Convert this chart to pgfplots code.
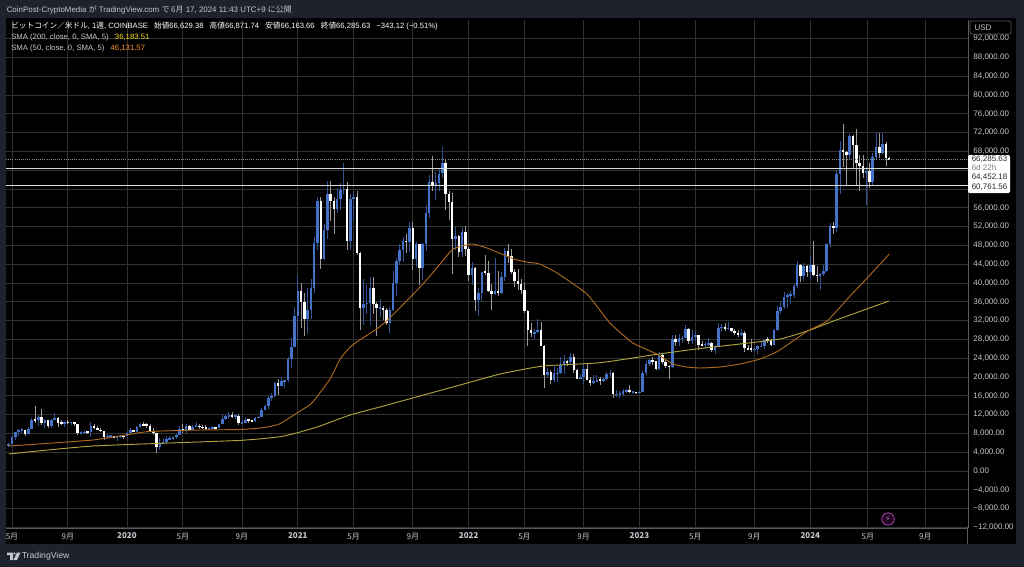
\documentclass[border=0pt]{standalone}
\usepackage{pgfplots}
\pgfplotsset{compat=1.18}
\usepackage{pgfplotstable}
\usepackage{fontspec}
\setmainfont{Liberation Sans}
\newfontfamily\cjk{Noto Sans CJK JP}
\newfontfamily\dvfont{DejaVu Sans}
\definecolor{bgdark}{HTML}{1E222D}
\definecolor{gridc}{HTML}{323232}
\definecolor{axc}{HTML}{5A5A5E}
\definecolor{txt}{HTML}{C4C7CF}
\definecolor{upc}{HTML}{4472C8}
\definecolor{upw}{HTML}{2F5596}
\definecolor{dnw}{HTML}{9A9A9A}
\definecolor{ma200}{HTML}{AFA43E}
\definecolor{ma50}{HTML}{AD6A1E}
\pgfplotstableread{
i o h l c
0 5280 5900 5150 5770
1 5770 7450 5700 7260
2 7260 8380 6600 8200
3 8200 8950 7500 8730
4 8730 9100 8000 8740
5 8740 8820 7450 7960
6 7960 9350 7700 8980
7 8980 11200 8950 10830
8 10830 13880 10300 10820
9 10820 12000 9650 11470
10 11470 13150 9850 10200
11 10200 11100 9070 10770
12 10770 10800 9100 9480
13 9480 11000 9100 10810
14 10810 12300 10800 11290
15 11290 11450 9450 10320
16 10320 10950 9700 10130
17 10130 10650 9330 10370
18 10370 10920 10000 10310
19 10310 10450 9850 10360
20 10360 10370 9600 9990
21 9990 10050 7700 8050
22 8050 8500 7800 8140
23 8140 8800 7800 8310
24 8310 8420 7870 8220
25 8220 10500 7300 9550
26 9550 9950 8950 9200
27 9200 9500 8650 8800
28 8800 9100 8400 8500
29 8500 8500 6550 7300
30 7300 7850 6850 7400
31 7400 7750 7150 7500
32 7500 7530 6970 7070
33 7070 7500 6430 7320
34 7320 7700 7050 7390
35 7390 7500 6850 7350
36 7350 8470 7350 8180
37 8180 9200 8100 8700
38 8700 8800 8250 8340
39 8340 9600 8300 9310
40 9310 10180 9150 9900
41 9900 10500 9550 9880
42 9880 10300 9250 9660
43 9660 9970 8400 8530
44 8530 9180 7640 8030
45 8030 8170 3850 5200
46 5200 7000 4450 5830
47 5830 7000 5650 6250
48 6250 7450 5860 6780
49 6780 7480 6500 6860
50 6860 7200 6500 7130
51 7130 7800 6800 7700
52 7700 9480 7630 8900
53 8900 10050 8150 8720
54 8720 9950 8100 9680
55 9680 9850 8630 8720
56 8720 9800 8630 9450
57 9450 10400 9280 9670
58 9670 10000 8900 9330
59 9330 9800 8900 9290
60 9290 9770 8820 9000
61 9000 9300 8900 9070
62 9070 9470 9050 9240
63 9240 9340 9000 9170
64 9170 10000 9130 9930
65 9930 12100 9900 11040
66 11040 11900 10950 11760
67 11760 12480 11130 11850
68 11850 12480 11380 11650
69 11650 11830 11100 11700
70 11700 12050 9800 10250
71 10250 10800 9900 10320
72 10320 11180 10250 10920
73 10920 10990 10130 10770
74 10770 10950 10370 10670
75 10670 11490 10520 11300
76 11300 11720 11200 11500
77 11500 13350 11400 13030
78 13030 14100 12900 13760
79 13760 15960 13200 15480
80 15480 16500 14850 15980
81 15980 18950 15800 18680
82 18680 19480 16200 18180
83 18180 19900 18100 19150
84 19150 19450 17600 19280
85 19280 24300 19000 23800
86 23800 28400 21900 26450
87 26450 34800 26400 33000
88 33000 41950 27700 38200
89 38200 40100 30400 36000
90 36000 37800 28800 32300
91 32300 38900 29200 34300
92 34300 40900 32300 38900
93 38900 49700 37900 48600
94 48600 58300 47000 57400
95 57400 58300 43000 45200
96 45200 52600 45000 51200
97 51200 61800 49300 59000
98 59000 61800 53200 57500
99 57500 58300 50500 55800
100 55800 60200 55000 57900
101 57900 61300 55500 59800
102 59800 65500 59000 60000
103 60000 61500 47000 49000
104 49000 59000 47000 57800
105 57800 59500 53000 58200
106 58200 59500 46000 46400
107 46400 46600 30000 34700
108 34700 40800 31000 35600
109 35600 39500 33500 35800
110 35800 41300 31000 39000
111 39000 41300 33300 35600
112 35600 36000 28800 34700
113 34700 36600 32700 34700
114 34700 35100 32100 34250
115 34250 34600 31000 31500
116 31500 34800 29300 34250
117 34250 42600 34100 39900
118 39900 45300 37300 44600
119 44600 48200 43800 47000
120 47000 49800 44400 48900
121 48900 50500 46300 48800
122 48800 52900 46500 51800
123 51800 52900 42800 45200
124 45200 48800 43300 48300
125 48300 48300 39600 43200
126 43200 48500 40700 48200
127 48200 56500 46900 54900
128 54900 62900 53900 61500
129 61500 67000 59500 60900
130 60900 63700 57700 61300
131 61300 64300 59500 63300
132 63300 69000 62300 65500
133 65500 66300 55600 59000
134 59000 59500 53300 57300
135 57300 59200 42000 49400
136 49400 51900 47100 50100
137 50100 50200 45500 46700
138 46700 51900 45600 50800
139 50800 52100 45700 47300
140 47300 47600 40500 41800
141 41800 44500 39600 43100
142 43100 43500 34000 36300
143 36300 38900 32900 37900
144 37900 42400 36200 42400
145 42400 45900 41600 42200
146 42200 44700 38000 38400
147 38400 39800 34300 37700
148 37700 45400 37500 38400
149 38400 42600 37200 37800
150 37800 42400 37600 41300
151 41300 47500 40500 46800
152 46800 48200 44200 45800
153 45800 47300 41900 42300
154 42300 42900 39200 40400
155 40400 42900 38600 39700
156 39700 40800 37700 38500
157 38500 40000 33700 34000
158 34000 34200 26500 30100
159 30100 31400 28600 29400
160 29400 30200 28000 29500
161 29500 32400 29300 29900
162 29900 31800 26500 26600
163 26600 26800 17600 20500
164 20500 22000 19700 21000
165 21000 21500 18600 19300
166 19300 22400 19000 20800
167 20800 22000 18900 20800
168 20800 24200 20700 22600
169 22600 24700 20700 23300
170 23300 23700 22400 23200
171 23200 25200 22700 24300
172 24300 25000 20800 21500
173 21500 21800 19500 19600
174 19600 20600 19500 20000
175 20000 22800 18500 21800
176 21800 22700 19300 19400
177 19400 19900 18100 18800
178 18800 20400 18500 19050
179 19050 20500 19000 19400
180 19400 19900 18200 19250
181 19250 19700 18900 19600
182 19600 21000 19300 20600
183 20600 21500 20100 20900
184 20900 21100 15600 16300
185 16300 17200 15800 16350
186 16350 17000 15500 16400
187 16400 17400 16000 17100
188 17100 17400 16700 17150
189 17150 18400 16500 16800
190 16800 17000 16400 16850
191 16850 16900 16300 16600
192 16600 17100 16500 16900
193 16900 21300 16900 20900
194 20900 23400 20400 22700
195 22700 23800 22300 23700
196 23700 24200 22500 23300
197 23300 23400 21400 21800
198 21800 25300 21400 24600
199 24600 25200 22700 23100
200 23100 23900 21900 22400
201 22400 22600 19500 22150
202 22150 28900 21900 28000
203 28000 28900 26600 27500
204 27500 29200 26500 28200
205 28200 28800 27200 28300
206 28300 31000 28200 30300
207 30300 30500 27100 27600
208 27600 30000 27100 28500
209 28500 29800 27700 28900
210 28900 29000 25800 26800
211 26800 27700 26500 26750
212 26750 27400 25900 27100
213 27100 28400 26500 27150
214 27150 27400 25400 25850
215 25850 26800 24800 26300
216 26300 31400 26300 30500
217 30500 31300 29500 30600
218 30600 31500 29700 30300
219 30300 31800 29900 30350
220 30350 30400 29500 29800
221 29800 30300 29000 29300
222 29300 30000 28600 29050
223 29050 30200 28700 29300
224 29300 29700 25300 26100
225 26100 26800 25800 26000
226 26000 28100 25300 25850
227 25850 26100 25400 25900
228 25900 26800 24900 26500
229 26500 27500 26400 26600
230 26600 28100 26000 27950
231 27950 28600 27200 27900
232 27900 28000 26500 26900
233 26900 30200 26800 29900
234 29900 35200 29800 34100
235 34100 35900 33400 35000
236 35000 38000 34500 37050
237 37050 37900 34700 37400
238 37400 38400 35600 37450
239 37450 39700 36800 39450
240 39450 44700 39000 43800
241 43800 44000 40200 41400
242 41400 44300 40500 43700
243 43700 43800 41300 42300
244 42300 45900 40800 43900
245 43900 49000 41500 41700
246 41700 43600 40300 41600
247 41600 42200 38500 42000
248 42000 43900 41500 42600
249 42600 48600 42300 48300
250 48300 52800 47700 52100
251 52100 53000 50500 51700
252 51700 64000 50900 63100
253 63100 70200 59000 68300
254 68300 73800 64600 67900
255 67900 68100 60800 67200
256 67200 71700 66400 71300
257 71300 71400 64500 69400
258 69400 72800 60700 65600
259 65600 67200 59600 64900
260 64900 67200 62400 63400
261 63400 64700 56500 63900
262 63900 65500 60200 61500
263 61500 67700 60800 66900
264 66900 71900 66300 69000
265 69000 71900 66700 67700
266 67700 72000 67500 69600
267 69600 70000 65000 66600
268 66629 66872 66164 66286
}\candles
\pgfplotstableread{
x y
0 3620
25.7 5320
70 6500
82.6 7300
88.7 8300
94.8 9575
103.9 11915
113 13620
125.2 15960
137.4 18300
149.6 20640
162.7 22340
180 23040
198 24900
210.4 26060
222.6 27020
234.8 28085
244 30000
251 31900
268 36184
}\smaA
\pgfplotstableread{
x y
0 5320
25.7 6600
42.1 8360
58.2 8720
70.5 8830
76.5 9150
79.5 9470
82.6 10065
88.7 12770
92.3 14470
97.8 19575
100.9 23830
103.9 26380
106.9 27900
112 30210
116 32550
126.1 39790
131.3 44040
135.3 47230
141 48300
145.6 47450
153.8 45100
157.6 44470
161.6 44040
166.9 42130
176 37660
183 31490
190 27230
197.3 24890
202.2 22770
206.4 22130
210.4 21915
216.5 22130
222.6 22770
228.7 23830
234.2 25530
243.2 29790
249.1 31915
256.1 37230
261.3 41060
268 46132
}\smaB
\begin{document}
\begin{tikzpicture}[x=0.75pt,y=-0.75pt]
\path[use as bounding box] (0,0) rectangle (1024,567);
\fill[bgdark] (0,0) rectangle (1024,567);
\fill[black] (6,18) rectangle (1016,544);
\begin{axis}[
  at={(4.5pt,-396pt)}, anchor=south west,
  scale only axis, width=721.5pt, height=381pt,
  xmin=-0.82, xmax=292, ymin=-12128, ymax=95960,
  scaled x ticks=false, scaled y ticks=false,
  axis x line*=bottom, axis y line*=right,
  axis line style={draw=axc, line width=0.6pt},
  major tick length=0pt,
  grid=major, grid style={draw=gridc, line width=0.6pt},
  xtick={1,18,36,53,71,88,105,123,140,157,175,192,209,227,244,261.5,279},
  xticklabels={5月,9月,\textbf{2020},5月,9月,\textbf{2021},5月,9月,\textbf{2022},5月,9月,\textbf{2023},5月,9月,\textbf{2024},5月,9月},
  x tick label style={font=\cjk\fontsize{6}{7}\selectfont, text=txt, yshift=-0.2pt},
  ytick={-12000,-8000,...,92000},
  yticklabels={−12{,}000.00,−8{,}000.00,−4{,}000.00,0.00,4{,}000.00,8{,}000.00,12{,}000.00,16{,}000.00,20{,}000.00,24{,}000.00,28{,}000.00,32{,}000.00,36{,}000.00,40{,}000.00,44{,}000.00,48{,}000.00,52{,}000.00,56{,}000.00,60{,}000.00,64{,}000.00,68{,}000.00,72{,}000.00,76{,}000.00,80{,}000.00,84{,}000.00,88{,}000.00,92{,}000.00},
  y tick label style={font=\fontsize{6}{7}\selectfont, text=txt, anchor=west, xshift=0.5pt},
  unbounded coords=discard,
  clip=true,
]
% wicks
\addplot[draw=none, forget plot, x filter/.expression={\thisrow{c}>=\thisrow{o} ? x : nan},
  error bars/.cd, y dir=both, y explicit, error mark=none,
  error bar style={draw=upw, line width=0.55pt}]
  table[x=i, y expr={(\thisrow{h}+\thisrow{l})/2},
    y error expr={(\thisrow{h}-\thisrow{l})/2}] {\candles};
\addplot[draw=none, forget plot, x filter/.expression={\thisrow{c}<\thisrow{o} ? x : nan},
  error bars/.cd, y dir=both, y explicit, error mark=none,
  error bar style={draw=dnw, line width=0.55pt}]
  table[x=i, y expr={(\thisrow{h}+\thisrow{l})/2},
    y error expr={(\thisrow{h}-\thisrow{l})/2}] {\candles};
% bodies
\addplot[draw=none, forget plot, x filter/.expression={\thisrow{c}>=\thisrow{o} ? x : nan},
  error bars/.cd, y dir=both, y explicit, error mark=none,
  error bar style={draw=upc, line width=1.9pt}]
  table[x=i, y expr={(\thisrow{o}+\thisrow{c})/2},
    y error expr={max(abs(\thisrow{c}-\thisrow{o})/2,150)}] {\candles};
\addplot[draw=none, forget plot, x filter/.expression={\thisrow{c}<\thisrow{o} ? x : nan},
  error bars/.cd, y dir=both, y explicit, error mark=none,
  error bar style={draw=white, line width=1.9pt}]
  table[x=i, y expr={(\thisrow{o}+\thisrow{c})/2},
    y error expr={max(abs(\thisrow{c}-\thisrow{o})/2,150)}] {\candles};
% moving averages
\addplot[ma200, line width=0.7pt, smooth, tension=0.3, forget plot] table[x=x,y=y] {\smaA};
\addplot[ma50, line width=0.7pt, smooth, tension=0.3, forget plot] table[x=x,y=y] {\smaB};
% price lines
\addplot[white!85!black, line width=0.8pt, forget plot] coordinates {(-0.82,64452.18) (292,64452.18)};
\addplot[white!85!black, line width=0.8pt, forget plot] coordinates {(-0.82,60761.56) (292,60761.56)};
\addplot[white!55!black, line width=0.4pt, dash pattern=on 0.6pt off 1pt, forget plot] coordinates {(-0.82,66285.63) (292,66285.63)};
\end{axis}
% axis vertical extension to bottom of the panel
\draw[axc, line width=0.6pt] (967.5,527) -- (967.5,544);
% header
\node[anchor=west, inner sep=0, text=txt, font=\fontsize{5.95}{7}\selectfont] at (6.5,9.5)
  {CoinPost-CryptoMedia {\cjk が} TradingView.com {\cjk で 6月} 17, 2024 11:43 UTC+9 {\cjk に公開}};
\node[anchor=west, inner sep=0, text=white, font=\fontsize{5.75}{7}\selectfont] at (11,26.5)
  {{\cjk ビットコイン／米ドル}, 1{\cjk 週}, COINBASE\hspace{3pt} {\cjk 始値}66,629.38\hspace{3pt} {\cjk 高値}66,871.74\hspace{3pt} {\cjk 安値}66,163.66\hspace{3pt} {\cjk 終値}66,285.63\hspace{3pt} −343.12 (−0.51\%)};
\node[anchor=west, inner sep=0, text=txt, font=\fontsize{5.8}{7}\selectfont] at (11,37.5)
  {SMA (200, close, 0, SMA, 5)\hspace{3pt} \textcolor{yellow!80!orange!90!white}{36,183.51}};
\node[anchor=west, inner sep=0, text=txt, font=\fontsize{5.8}{7}\selectfont] at (11,48.5)
  {SMA (50, close, 0, SMA, 5)\hspace{3pt} \textcolor{orange!85!white}{46,131.57}};
% USD box
\draw[axc, line width=0.5pt, rounded corners=1pt] (970,21) rectangle (1011,34);
\node[text=txt, inner sep=0, font=\fontsize{6}{7}\selectfont] at (983,27.5) {USD};
% price labels
\fill[white, rounded corners=1pt] (968,155) rectangle (1010,193);
\foreach \yy/\lbl/\colr in {159.5/66{,}285.63/black!85,168/6d 22h/black!50,177/64{,}452.18/black!85,187/60{,}761.56/black!85}
  \node[anchor=west, inner sep=0, text=\colr, font=\fontsize{6}{6.5}\selectfont] at (971.5,\yy) {\lbl};
% icon
\draw[violet!70!white, line width=0.6pt, fill=violet!25!black] (888,519) circle (6.2);
\node[inner sep=0, text=violet!50!white, font=\dvfont\fontsize{5.5}{6}\selectfont] at (888,519) {⚡};
% logo
\fill[txt] (7,552.5) -- (13,552.5) -- (13,560) -- (10,560) -- (10,555) -- (7,555) -- cycle;
\fill[txt] (14.5,553.5) circle (1.2);
\fill[txt] (17,552.5) -- (20.5,552.5) -- (17,560) -- (13.5,560) -- cycle;
\node[anchor=west, inner sep=0, text=txt, font=\fontsize{6.5}{8}\selectfont] at (21.5,556.5) {TradingView};
\end{tikzpicture}
\end{document}
